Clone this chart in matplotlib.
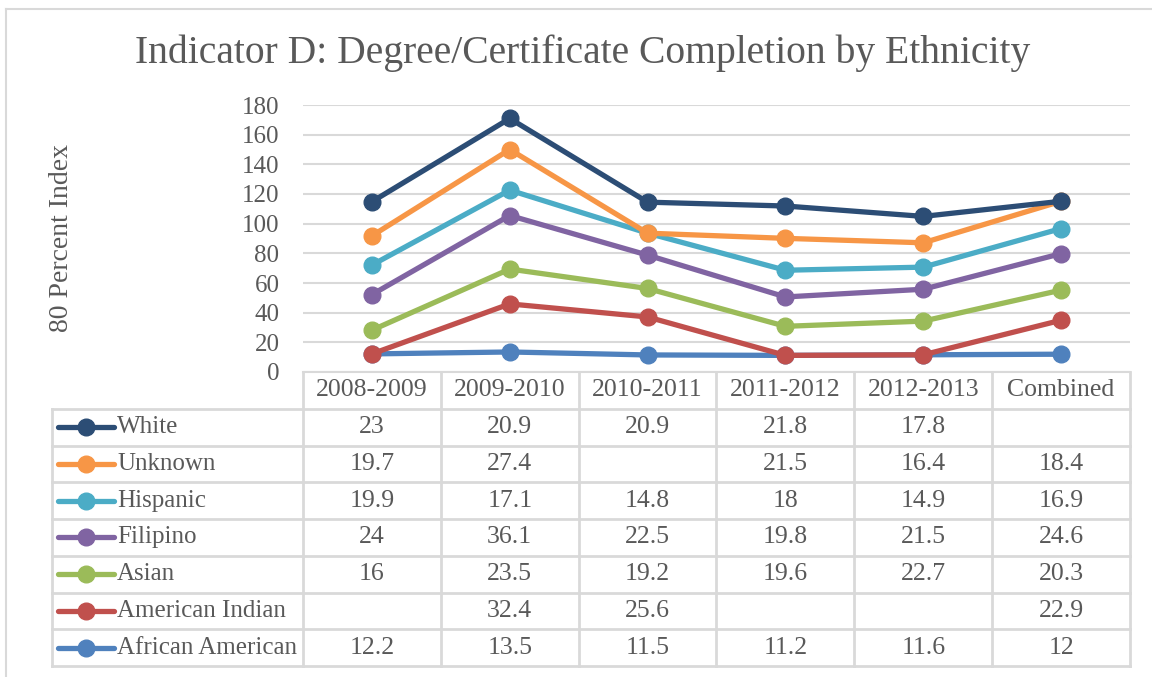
import numpy as np
import matplotlib
matplotlib.use("Agg")
import matplotlib.pyplot as plt
from matplotlib.lines import Line2D

plt.rcParams['font.family'] = ['Liberation Serif', 'DejaVu Serif']

# data (blank cells = None)
periods = ["2008-2009", "2009-2010", "2010-2011", "2011-2012", "2012-2013", "Combined"]
african_american = [12.2, 13.5, 11.5, 11.2, 11.6, 12]
american_indian = [None, 32.4, 25.6, None, None, 22.9]
asian = [16, 23.5, 19.2, 19.6, 22.7, 20.3]
filipino = [24, 36.1, 22.5, 19.8, 21.5, 24.6]
hispanic = [19.9, 17.1, 14.8, 18, 14.9, 16.9]
unknown = [19.7, 27.4, None, 21.5, 16.4, 18.4]
white = [23, 20.9, 20.9, 21.8, 17.8, None]

# bottom to top of the stack
series = [
    ("African American", african_american, "#4F81BD"),
    ("American Indian", american_indian, "#C0504D"),
    ("Asian", asian, "#9BBB59"),
    ("Filipino", filipino, "#8064A2"),
    ("Hispanic", hispanic, "#4BACC6"),
    ("Unknown", unknown, "#F79646"),
    ("White", white, "#2C4D75"),
]

W, H = 1152, 677
fig = plt.figure(figsize=(W / 100, H / 100), dpi=100)
txt = "#595959"
grid = "#D9D9D9"

def fx(px):
    return px / W

def fy(py):
    return 1 - py / H

# outer chart border (left + top visible)
fig.add_artist(Line2D([fx(6), fx(6)], [fy(9), 0], color=grid, lw=1.5))
fig.add_artist(Line2D([fx(6), 1], [fy(9), fy(9)], color=grid, lw=1.5))

ax = fig.add_axes([fx(303), fy(372), fx(1130) - fx(303), fy(105) - fy(372)])
x = np.arange(len(periods))
base = np.zeros(len(periods))
for name, vals, col in series:
    v = np.array([0 if a is None else a for a in vals], dtype=float)
    base = base + v
    ax.plot(x, base, color=col, lw=3.8, marker="o", ms=12, solid_capstyle="round", zorder=3)

ax.set_xlim(-0.5, len(periods) - 0.5)
ax.set_ylim(0, 180)
ax.set_yticks(range(0, 181, 20))
ax.yaxis.grid(True, color=grid, lw=1.5)
ax.set_axisbelow(True)
for s in ["top", "right", "left"]:
    ax.spines[s].set_visible(False)
ax.spines["bottom"].set_color(grid)
ax.spines["bottom"].set_linewidth(1.5)
ax.tick_params(axis="y", length=0, pad=17, labelsize=18, labelcolor=txt)
ax.tick_params(axis="x", length=0, labelbottom=False)

fig.text(fx(62), fy(238), "80 Percent Index", rotation=90, ha="center", va="center",
         fontsize=20, color=txt)
fig.text(fx(583), fy(53), "Indicator D: Degree/Certificate Completion by Ethnicity",
         ha="center", va="center", fontsize=28.5, color=txt)

# data table under the plot, sharing the category x scale
tax = fig.add_axes([fx(303), fy(666), fx(1130) - fx(303), fy(372) - fy(666)])
tax.set_xlim(-0.5, len(periods) - 0.5)
nrows = len(series) + 1
tax.set_ylim(0, nrows)
tax.axis("off")
colw = (1130 - 303) / len(periods)
lab_left = -0.5 - (303 - 52) / colw

lk = dict(color=grid, lw=2, clip_on=False)
# header row
for i, p in enumerate(periods):
    tax.text(i, nrows - 0.5, p, ha="center", va="center", fontsize=18.5, color=txt)
for i in range(len(periods) + 1):
    tax.plot([i - 0.5, i - 0.5], [0, nrows], **lk)
tax.plot([lab_left, lab_left], [0, nrows - 1], **lk)
for r in range(nrows):
    tax.plot([lab_left, len(periods) - 0.5], [r, r], **lk)

# body rows: top row is the last (topmost) series
for r, (name, vals, col) in enumerate(reversed(series)):
    yc = nrows - 1.5 - r
    sw0 = lab_left + (58 - 52) / colw
    sw1 = lab_left + (114 - 52) / colw
    tax.plot([sw0, sw1], [yc, yc], color=col, lw=3.8, solid_capstyle="round", clip_on=False)
    tax.plot([(sw0 + sw1) / 2], [yc], marker="o", ms=12, color=col, clip_on=False)
    tax.text(lab_left + (117 - 52) / colw, yc, name, ha="left", va="center", fontsize=18, color=txt)
    for i, v in enumerate(vals):
        if v is not None:
            tax.text(i, yc, f"{v:g}", ha="center", va="center", fontsize=18.5, color=txt)

fig.savefig("out.png", dpi=100)
